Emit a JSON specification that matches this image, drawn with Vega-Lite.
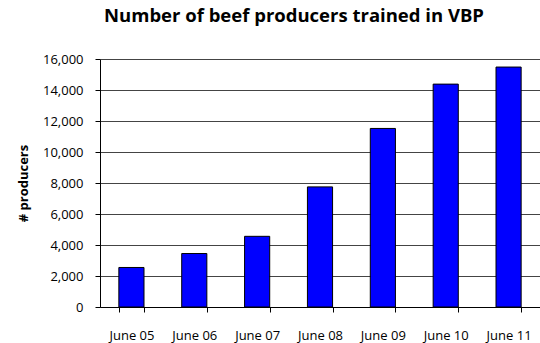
{
  "$schema": "https://vega.github.io/schema/vega-lite/v6.json",
  "width": 440,
  "height": 248,
  "autosize": {"type": "none"},
  "padding": {"left": 100, "top": 59, "right": 0, "bottom": 36},
  "background": "white",
  "title": {
    "text": "Number of beef producers trained in VBP",
    "font": "Open Sans",
    "fontSize": 18.5,
    "fontWeight": "bold",
    "color": "black",
    "anchor": "middle",
    "frame": "group",
    "dx": -26,
    "offset": 28
  },
  "data": {
    "values": [
      {"period": "June 05", "producers": 2550},
      {"period": "June 06", "producers": 3450},
      {"period": "June 07", "producers": 4560},
      {"period": "June 08", "producers": 7750},
      {"period": "June 09", "producers": 11520},
      {"period": "June 10", "producers": 14380},
      {"period": "June 11", "producers": 15480}
    ]
  },
  "mark": {"type": "bar", "fill": "#0000FF", "stroke": "black", "strokeWidth": 1},
  "encoding": {
    "x": {
      "field": "period",
      "type": "ordinal",
      "sort": null,
      "scale": {"paddingInner": 0.6, "paddingOuter": 0.3},
      "axis": {
        "title": null,
        "labelAngle": 0,
        "labelFont": "Open Sans",
        "labelFontSize": 13,
        "labelColor": "black",
        "labelPadding": 17,
        "tickBand": "extent",
        "ticks": true,
        "tickColor": "black",
        "tickSize": 5,
        "domainColor": "black",
        "grid": false
      }
    },
    "y": {
      "field": "producers",
      "type": "quantitative",
      "scale": {"domain": [0, 16000], "nice": false},
      "axis": {
        "title": "# producers",
        "titleFont": "Open Sans",
        "titleFontSize": 13,
        "titleFontWeight": "bold",
        "titleColor": "black",
        "titlePadding": 12,
        "values": [0, 2000, 4000, 6000, 8000, 10000, 12000, 14000, 16000],
        "format": ",d",
        "labelFont": "Open Sans",
        "labelFontSize": 13,
        "labelColor": "black",
        "labelPadding": 12,
        "tickColor": "black",
        "tickSize": 5,
        "domainColor": "black",
        "grid": true,
        "gridColor": "#444444",
        "gridOpacity": 1
      }
    }
  },
  "config": {"view": {"stroke": null}}
}
